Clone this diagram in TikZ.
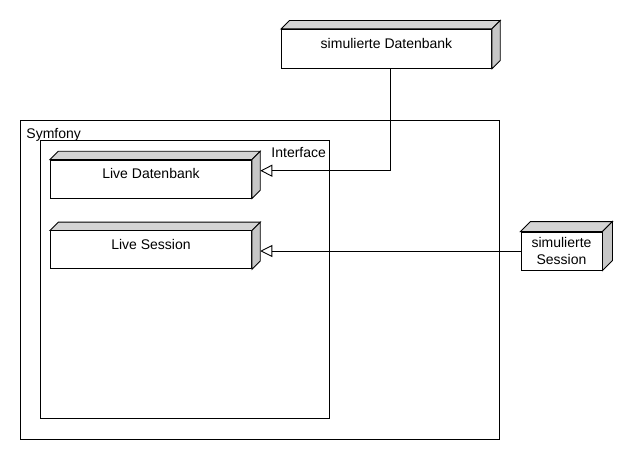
\documentclass[tikz,border=0pt]{standalone}
\usepackage{fontspec}
\setmainfont{Liberation Sans}
\usetikzlibrary{positioning,calc,arrows.meta}

\tikzset{
  box/.style={draw,fill=white,inner sep=0pt,align=center,minimum height=38pt,font=\fontsize{14}{16.8}\selectfont},
  oneline/.style={text height=10pt,text depth=11pt},
  topface/.style={fill=black!17},
  sideface/.style={fill=black!22},
  realizes/.style={-{Triangle[open,length=12pt,width=12pt]}},
  framelabel/.style={font=\fontsize{14}{16.8}\selectfont,inner sep=0pt},
}

% depth faces of a box node: name, depth
\newcommand{\extrude}[2]{%
  \filldraw[topface] (#1.north west) -- ++(#2,-#2) -- ($(#1.north east)+(#2,-#2)$) -- (#1.north east) -- cycle;
  \filldraw[sideface] (#1.north east) -- ++(#2,-#2) -- ($(#1.south east)+(#2,-#2)$) -- (#1.south east) -- cycle;
  \coordinate (#1-back) at ($(#1.east)+(#2,-#2)$);
}

\begin{document}
\begin{tikzpicture}[x=1pt,y=-1pt,line width=0.9pt]
	\useasboundingbox (0,0) rectangle (640,460);
	% frames
	\draw (20.5,120.5) rectangle (499,439);
	\node[framelabel,anchor=base west] (symfony) at (26,138.3) {Symfony};
	\draw (40.5,140.5) rectangle (329,418.5);
	\node[framelabel,anchor=base west] (iface) at (271,157.7) {Interface};
	% devices
	\node[box,oneline,minimum width=210pt,minimum height=39pt] (simdb) at (386.5,48.8) {simulierte Datenbank};
	\extrude{simdb}{8.3}
	\node[box,oneline,minimum width=201pt] (livedb) at (151,179) {Live Datenbank};
	\extrude{livedb}{8.3}
	\node[box,oneline,minimum width=201pt,below=32pt of livedb] (livesess) {Live Session};
	\extrude{livesess}{8.3}
	\node[box,minimum width=81pt] (simsess) at (561.5,251) {simulierte\\Session};
	\extrude{simsess}{10}
	% realizations
	\draw[realizes] ($(simdb.south)+(3.5,0)$) |- (livedb-back);
	\draw[realizes] (simsess.west) -- (simsess.west -| livesess-back);
\end{tikzpicture}
\end{document}
